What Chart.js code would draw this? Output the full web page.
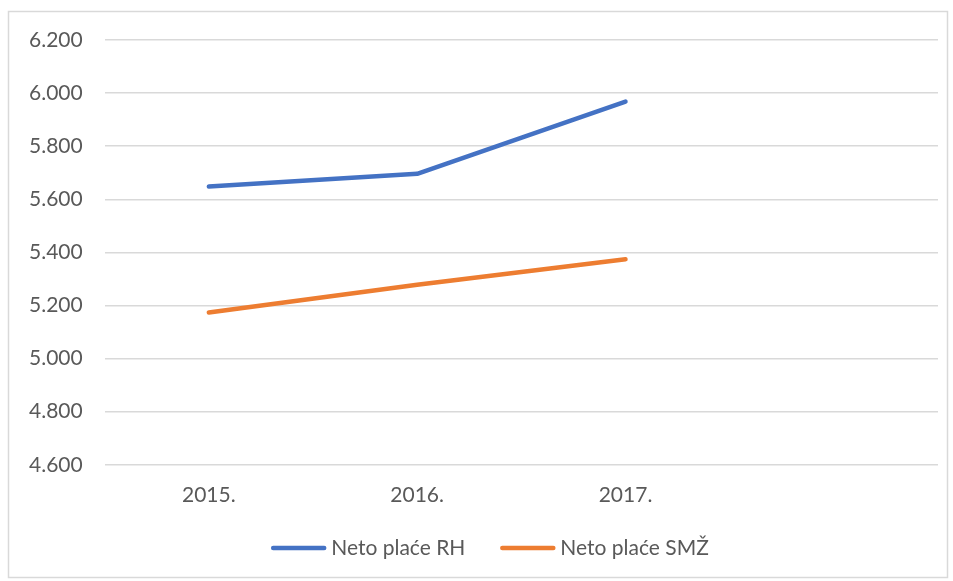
<!DOCTYPE html>
<html>
<head>
<meta charset="utf-8">
<script src="https://cdn.jsdelivr.net/npm/chart.js@4"></script>
<style>
  html, body { margin: 0; padding: 0; background: #fff; }
  #wrap { width: 953px; height: 581px; }
</style>
</head>
<body>
<div id="wrap"><canvas id="placeChart" width="953" height="581"></canvas></div>
<script>
// godine (4. kategorija ostaje prazna kao u originalu)
const years = ['2015.', '2016.', '2017.', ''];
const netoRH = [5648, 5696, 5968, null];
const netoSMZ = [5174, 5278, 5374, null];
const yTicks = [4600, 4800, 5000, 5200, 5400, 5600, 5800, 6000, 6200];

const textColor = '#595959';
const gridColor = '#d9d9d9';
const fontFamily = 'Lato, "Open Sans", sans-serif';
const fontSize = 21;

// okvir oko cijelog grafikona
const frame = {
    id: 'frame',
    beforeDraw(chart) {
        const c = chart.ctx;
        c.save();
        c.fillStyle = '#fff';
        c.fillRect(0, 0, chart.width, chart.height);
        c.strokeStyle = gridColor;
        c.lineWidth = 1.5;
        c.strokeRect(8.5, 11.5, 939, 566);
        c.restore();
    }
};

// legenda ispod osi, kao u Excelu (crta + tekst)
const excelLegend = {
    id: 'excelLegend',
    afterDraw(chart) {
        const c = chart.ctx;
        const lineLen = 55, gapText = 5, gapItem = 35, y = 548;
        c.save();
        c.font = fontSize + 'px ' + fontFamily;
        c.textBaseline = 'middle';
        const items = chart.data.datasets.map(ds => ({
            text: ds.label, color: ds.borderColor, w: c.measureText(ds.label).width
        }));
        let total = 0;
        items.forEach((it, i) => { total += lineLen + gapText + it.w + (i ? gapItem : 0); });
        let x = 490 - total / 2;
        items.forEach(it => {
            c.strokeStyle = it.color;
            c.lineWidth = 4.5;
            c.lineCap = 'round';
            c.beginPath();
            c.moveTo(x + 2, y);
            c.lineTo(x + lineLen - 2, y);
            c.stroke();
            c.fillStyle = textColor;
            c.fillText(it.text, x + lineLen + gapText, y);
            x += lineLen + gapText + it.w + gapItem;
        });
        c.restore();
    }
};

const ctx = document.getElementById('placeChart').getContext('2d');
new Chart(ctx, {
    type: 'line',
    data: {
        labels: years,
        datasets: [
            {
                label: 'Neto plaće RH',
                data: netoRH,
                borderColor: '#4472C4',
                backgroundColor: '#4472C4',
                borderWidth: 4.5,
                borderCapStyle: 'round',
                borderJoinStyle: 'round',
                pointRadius: 0,
                tension: 0
            },
            {
                label: 'Neto plaće SMŽ',
                data: netoSMZ,
                borderColor: '#ED7D31',
                backgroundColor: '#ED7D31',
                borderWidth: 4.5,
                borderCapStyle: 'round',
                borderJoinStyle: 'round',
                pointRadius: 0,
                tension: 0
            }
        ]
    },
    options: {
        responsive: false,
        animation: false,
        layout: { padding: { left: 7, right: 15, top: 40, bottom: 55 } },
        plugins: {
            tooltip: { enabled: false },
            legend: { display: false }
        },
        scales: {
            x: {
                offset: true,
                grid: { display: false, drawTicks: false },
                border: { display: false },
                ticks: {
                    color: textColor,
                    font: { family: fontFamily, size: fontSize },
                    padding: 18,
                    maxRotation: 0
                }
            },
            y: {
                min: 4600,
                max: 6200,
                afterBuildTicks(axis) {
                    axis.ticks = yTicks.map(v => ({ value: v }));
                },
                grid: { color: gridColor, lineWidth: 1.5, drawTicks: false },
                border: { display: false },
                ticks: {
                    color: textColor,
                    font: { family: fontFamily, size: fontSize },
                    padding: 22,
                    callback: v => v.toLocaleString('de-DE')
                }
            }
        }
    },
    plugins: [frame, excelLegend]
});
</script>
</body>
</html>
